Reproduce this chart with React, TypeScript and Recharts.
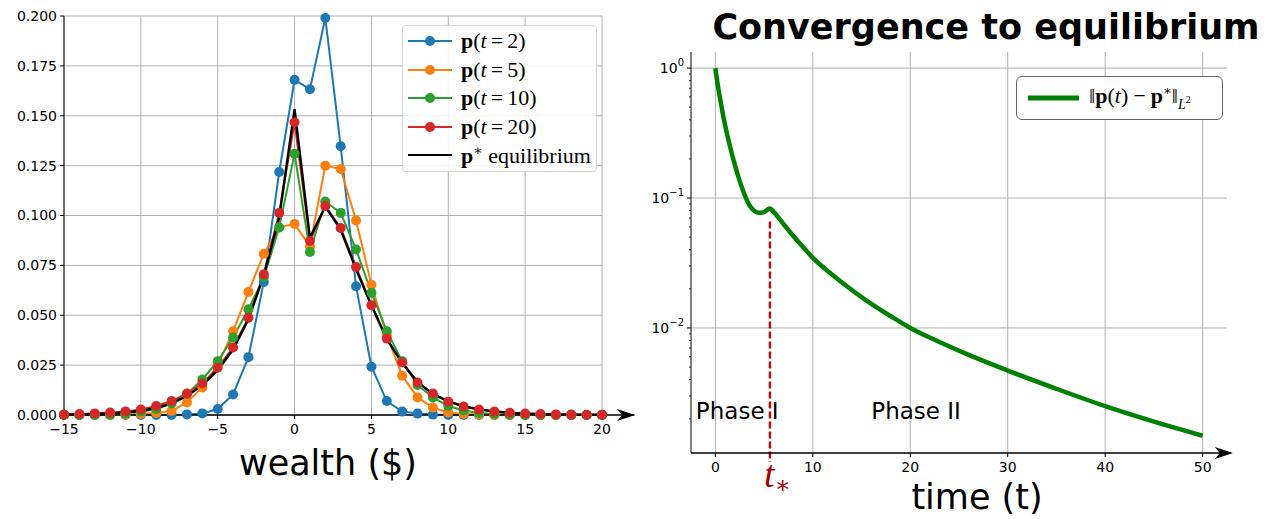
import React from "react";
import {
  CartesianGrid,
  Line,
  LineChart,
  ReferenceDot,
  ReferenceLine,
  XAxis,
  YAxis,
} from "recharts";

// ---- left panel: wealth distribution at several times ----
const wealth = [
  -15, -14, -13, -12, -11, -10, -9, -8, -7, -6, -5, -4, -3, -2, -1, 0, 1, 2,
  3, 4, 5, 6, 7, 8, 9, 10, 11, 12, 13, 14, 15, 16, 17, 18, 19, 20,
];
const pT2 = [
  0, 0, 0, 0, 0, 0, 0, 0, 0.0003, 0.0008, 0.003, 0.0103, 0.029, 0.0667,
  0.1218, 0.168, 0.1633, 0.199, 0.1347, 0.0645, 0.0242, 0.007, 0.0017, 0.0007,
  0.0002, 0, 0, 0, 0, 0, 0, 0, 0, 0, 0, 0,
];
const pT5 = [
  0, 0, 0, 0, 0.0002, 0.0005, 0.001, 0.002, 0.0063, 0.0138, 0.025, 0.042,
  0.0617, 0.0808, 0.094, 0.0958, 0.0845, 0.125, 0.1233, 0.0975, 0.0653, 0.04,
  0.0197, 0.0088, 0.0037, 0.0013, 0.0005, 0.0002, 0, 0, 0, 0, 0, 0, 0, 0,
];
const pT10 = [
  0, 0, 0, 0.0002, 0.0007, 0.0017, 0.003, 0.0058, 0.0105, 0.0178, 0.027,
  0.0388, 0.053, 0.069, 0.094, 0.131, 0.0817, 0.107, 0.1013, 0.083, 0.0613,
  0.042, 0.027, 0.015, 0.0088, 0.0045, 0.0023, 0.001, 0.0005, 0.0002, 0, 0, 0,
  0, 0, 0,
];
const pT20 = [
  0.0003, 0.0005, 0.0008, 0.0012, 0.0018, 0.0028, 0.0045, 0.007, 0.0108,
  0.0158, 0.0237, 0.0338, 0.0488, 0.0705, 0.1013, 0.1467, 0.0872, 0.1047,
  0.0937, 0.0742, 0.055, 0.0383, 0.0263, 0.0163, 0.0108, 0.0067, 0.0043,
  0.0027, 0.0017, 0.0011, 0.0007, 0.0005, 0.0003, 0.0002, 0.0001, 0.0001,
];
const pEq = [
  0.0002, 0.0003, 0.0005, 0.0008, 0.0013, 0.002, 0.0035, 0.0058, 0.0095,
  0.015, 0.0225, 0.0328, 0.048, 0.07, 0.099, 0.1533, 0.0888, 0.1045, 0.093,
  0.073, 0.055, 0.038, 0.026, 0.0165, 0.0105, 0.0068, 0.0044, 0.0028, 0.0018,
  0.0011, 0.0007, 0.0004, 0.0003, 0.0002, 0.0001, 0.0001,
];
const wealthTicks = [-15, -10, -5, 0, 5, 10, 15, 20];
const densityTicks = [0, 0.025, 0.05, 0.075, 0.1, 0.125, 0.15, 0.175, 0.2];

// ---- right panel: L2 distance to equilibrium ----
const times = [
  0, 0.25, 0.5, 0.75, 1, 1.5, 2, 2.5, 3, 3.5, 4, 4.5, 5, 5.6, 6, 7, 8, 9, 10,
  12, 14, 16, 18, 20, 23, 26, 30, 35, 40, 45, 50,
];
const errNorm = [
  1.0, 0.74, 0.575, 0.452, 0.363, 0.25, 0.18, 0.135, 0.106, 0.088, 0.0795,
  0.077, 0.078, 0.083, 0.078, 0.063, 0.051, 0.042, 0.0346, 0.0257, 0.0196,
  0.0153, 0.0123, 0.01, 0.0078, 0.0062, 0.0047, 0.0034, 0.0025, 0.0019,
  0.00148,
];
const timeTicks = [0, 10, 20, 30, 40, 50];
const decadeTicks = [1, 0.1, 0.01];
const minorTicks = [
  0.002, 0.003, 0.004, 0.005, 0.006, 0.007, 0.008, 0.009, 0.02, 0.03, 0.04,
  0.05, 0.06, 0.07, 0.08, 0.09, 0.2, 0.3, 0.4, 0.5, 0.6, 0.7, 0.8, 0.9,
];
const tStar = 5.6;

const series = [
  { key: "p2", color: "#1f77b4", label: "2" },
  { key: "p5", color: "#ff7f0e", label: "5" },
  { key: "p10", color: "#2ca02c", label: "10" },
  { key: "p20", color: "#d62728", label: "20" },
];

const leftData = wealth.map((x, i) => ({
  x,
  p2: pT2[i],
  p5: pT5[i],
  p10: pT10[i],
  p20: pT20[i],
  eq: pEq[i],
}));
const rightData = times.map((t, i) => ({ t, err: errNorm[i] }));

const SANS = "DejaVu Sans, sans-serif";
const SERIF = "Liberation Serif, DejaVu Serif, serif";
const GRID = "#b0b0b0";
const TICK_FONT = { fill: "#000", fontSize: 14, fontFamily: SANS };
const Y_TICK_SIZE = 4;
const Y_TICK_MARGIN = 3;

const minus = (v: number) => (v < 0 ? `\u2212${Math.abs(v)}` : `${v}`);

function Arrow(props: any) {
  const { cx, cy } = props;
  return (
    <path
      d={`M${cx},${cy} L${cx - 18},${cy - 6} L${cx - 13},${cy} L${cx - 18},${cy + 6} Z`}
      fill="#000"
    />
  );
}

function LogTick(props: any) {
  const { x, y, payload } = props;
  const v = payload.value as number;
  const axisX = x + Y_TICK_SIZE + Y_TICK_MARGIN;
  const lg = Math.log10(v);
  const exp = Math.round(lg);
  if (Math.abs(lg - exp) > 1e-6) {
    return <line x1={axisX - 2} x2={axisX} y1={y} y2={y} stroke="#000" strokeWidth={0.8} />;
  }
  return (
    <g>
      <line x1={axisX - 4} x2={axisX} y1={y} y2={y} stroke="#000" strokeWidth={1} />
      <text x={x} y={y} dy="0.35em" textAnchor="end" fontSize={14} fontFamily={SANS} fill="#000">
        10
        <tspan dy={-7} fontSize={10}>
          {exp === 0 ? "0" : `\u2212${Math.abs(exp)}`}
        </tspan>
      </text>
    </g>
  );
}

function PhaseText(text: string) {
  return (props: any) => (
    <text x={props.cx} y={props.cy} fontSize={23} fontFamily={SANS} fill="#000">
      {text}
    </text>
  );
}

function TStarLabel(props: any) {
  return (
    <text
      x={props.cx - 6}
      y={props.cy}
      fontSize={38}
      fontFamily={SERIF}
      fontStyle="italic"
      fill="#a80000"
    >
      t
      <tspan dy={6} fontSize={24} fontStyle="normal">
        {"\u2217"}
      </tspan>
    </text>
  );
}

function Swatch({ color, dot }: { color: string; dot: boolean }) {
  return (
    <svg width={44} height={14} style={{ display: "block" }}>
      <line x1={0} x2={44} y1={7} y2={7} stroke={color} strokeWidth={2.2} />
      {dot && <circle cx={22} cy={7} r={5} fill={color} />}
    </svg>
  );
}

const eqSign = <span style={{ padding: "0 4px" }}>=</span>;

function LeftLegend() {
  return (
    <div
      style={{
        position: "absolute",
        left: 402,
        top: 25,
        width: 195,
        height: 147,
        boxSizing: "border-box",
        border: "1px solid #d4d4d4",
        borderRadius: 4,
        background: "rgba(255,255,255,0.85)",
        paddingTop: 1,
        fontFamily: SERIF,
        fontSize: 22,
        color: "#000",
      }}
    >
      {series.map((s) => (
        <div key={s.key} style={{ display: "flex", alignItems: "center", height: 28.5, paddingLeft: 5 }}>
          <Swatch color={s.color} dot />
          <span style={{ marginLeft: 9, whiteSpace: "nowrap" }}>
            <b>p</b>(<i>t</i>
            {eqSign}
            {s.label})
          </span>
        </div>
      ))}
      <div style={{ display: "flex", alignItems: "center", height: 28.5, paddingLeft: 5 }}>
        <Swatch color="#000" dot={false} />
        <span style={{ marginLeft: 9, whiteSpace: "nowrap" }}>
          <b>p</b>
          <sup style={{ fontSize: 14 }}>∗</sup> equilibrium
        </span>
      </div>
    </div>
  );
}

function RightLegend() {
  return (
    <div
      style={{
        position: "absolute",
        left: 1016,
        top: 76,
        width: 207,
        height: 44,
        boxSizing: "border-box",
        border: "1px solid #666",
        borderRadius: 6,
        background: "#fff",
        display: "flex",
        alignItems: "center",
        paddingLeft: 11,
        fontFamily: SERIF,
        fontSize: 22,
        color: "#000",
      }}
    >
      <svg width={51} height={10} style={{ display: "block" }}>
        <line x1={0} x2={51} y1={5} y2={5} stroke="#008000" strokeWidth={5} />
      </svg>
      <span style={{ marginLeft: 10, whiteSpace: "nowrap" }}>
        ‖<b>p</b>(<i>t</i>)<span style={{ padding: "0 5px" }}>−</span>
        <b>p</b>
        <sup style={{ fontSize: 13 }}>∗</sup>‖
        <sub style={{ fontSize: 14 }}>
          <i>L</i>
          <sup style={{ fontSize: 10 }}>2</sup>
        </sub>
      </span>
    </div>
  );
}

function WealthPanel() {
  return (
    <LineChart width={640} height={519} data={leftData} margin={{ top: 16, right: 38, bottom: 74, left: 0 }}>
      <CartesianGrid stroke={GRID} strokeWidth={1} />
      <XAxis
        dataKey="x"
        type="number"
        domain={[-15, 20]}
        ticks={wealthTicks}
        interval={0}
        tickFormatter={minus}
        axisLine={false}
        tickLine={{ stroke: "#000" }}
        tickSize={4}
        tickMargin={5}
        tick={TICK_FONT}
      />
      <YAxis
        type="number"
        domain={[0, 0.2]}
        ticks={densityTicks}
        interval={0}
        width={64}
        tickFormatter={(v: number) => v.toFixed(3)}
        axisLine={{ stroke: "#000" }}
        tickLine={{ stroke: "#000" }}
        tickSize={Y_TICK_SIZE}
        tickMargin={Y_TICK_MARGIN}
        tick={TICK_FONT}
      />
      {series.map((s) => (
        <Line
          key={s.key}
          dataKey={s.key}
          type="linear"
          stroke={s.color}
          strokeWidth={2}
          dot={{ r: 5, fill: s.color, stroke: s.color, strokeWidth: 0 }}
          activeDot={false}
          isAnimationActive={false}
        />
      ))}
      <Line
        dataKey="eq"
        type="linear"
        stroke="#000"
        strokeWidth={2.4}
        dot={false}
        activeDot={false}
        isAnimationActive={false}
      />
      <ReferenceLine
        segment={[
          { x: -15, y: 0 },
          { x: 22.1, y: 0 },
        ]}
        stroke="#000"
        strokeWidth={1.5}
        ifOverflow="visible"
      />
      <ReferenceDot x={22.15} y={0} r={0} ifOverflow="visible" shape={Arrow} />
    </LineChart>
  );
}

function ConvergencePanel() {
  return (
    <LineChart width={633} height={519} data={rightData} margin={{ top: 52, right: 46, bottom: 36, left: 0 }}>
      <CartesianGrid stroke={GRID} strokeWidth={1} horizontalValues={decadeTicks} verticalValues={timeTicks} />
      <XAxis
        dataKey="t"
        type="number"
        domain={[-2.5, 52.5]}
        ticks={timeTicks}
        interval={0}
        axisLine={false}
        tickLine={{ stroke: "#000" }}
        tickSize={4}
        tickMargin={5}
        tick={TICK_FONT}
      />
      <YAxis
        type="number"
        scale="log"
        domain={[0.00109, 1.33]}
        allowDataOverflow
        ticks={[...decadeTicks, ...minorTicks]}
        interval={0}
        width={51}
        axisLine={{ stroke: "#000" }}
        tickLine={false}
        tickSize={Y_TICK_SIZE}
        tickMargin={Y_TICK_MARGIN}
        tick={<LogTick />}
      />
      <Line
        dataKey="err"
        type="monotone"
        stroke="#008000"
        strokeWidth={4.5}
        dot={false}
        activeDot={false}
        isAnimationActive={false}
      />
      <ReferenceLine
        segment={[
          { x: tStar, y: 0.066 },
          { x: tStar, y: 0.00093 },
        ]}
        stroke="#b01010"
        strokeWidth={2.5}
        strokeDasharray="7 3"
        ifOverflow="visible"
      />
      <ReferenceLine
        segment={[
          { x: -2.5, y: 0.00109 },
          { x: 52.9, y: 0.00109 },
        ]}
        stroke="#000"
        strokeWidth={1.5}
        ifOverflow="visible"
      />
      <ReferenceDot x={53.1} y={0.00109} r={0} ifOverflow="visible" shape={Arrow} />
      <ReferenceDot x={-2} y={0.002} r={0} ifOverflow="visible" shape={PhaseText("Phase I")} />
      <ReferenceDot x={16} y={0.002} r={0} ifOverflow="visible" shape={PhaseText("Phase II")} />
      <ReferenceDot x={tStar} y={0.0006} r={0} ifOverflow="visible" shape={TStarLabel} />
    </LineChart>
  );
}

export default function App() {
  return (
    <div
      style={{
        position: "absolute",
        left: 0,
        top: 0,
        width: 1273,
        height: 519,
        background: "#fff",
        overflow: "hidden",
      }}
    >
      <div style={{ position: "absolute", left: 0, top: 0 }}>
        <WealthPanel />
      </div>
      <div style={{ position: "absolute", left: 640, top: 0 }}>
        <ConvergencePanel />
      </div>
      <LeftLegend />
      <RightLegend />
      <div
        style={{
          position: "absolute",
          left: 128,
          width: 400,
          top: 443,
          textAlign: "center",
          fontFamily: SANS,
          fontSize: 35,
          lineHeight: "40px",
        }}
      >
        wealth ($)
      </div>
      <div
        style={{
          position: "absolute",
          left: 777,
          width: 400,
          top: 477,
          textAlign: "center",
          fontFamily: SANS,
          fontSize: 35,
          lineHeight: "40px",
        }}
      >
        time (t)
      </div>
      <div
        style={{
          position: "absolute",
          left: 686,
          width: 600,
          top: 6,
          textAlign: "center",
          fontFamily: SANS,
          fontWeight: "bold",
          fontSize: 35,
          lineHeight: "42px",
        }}
      >
        Convergence to equilibrium
      </div>
    </div>
  );
}
